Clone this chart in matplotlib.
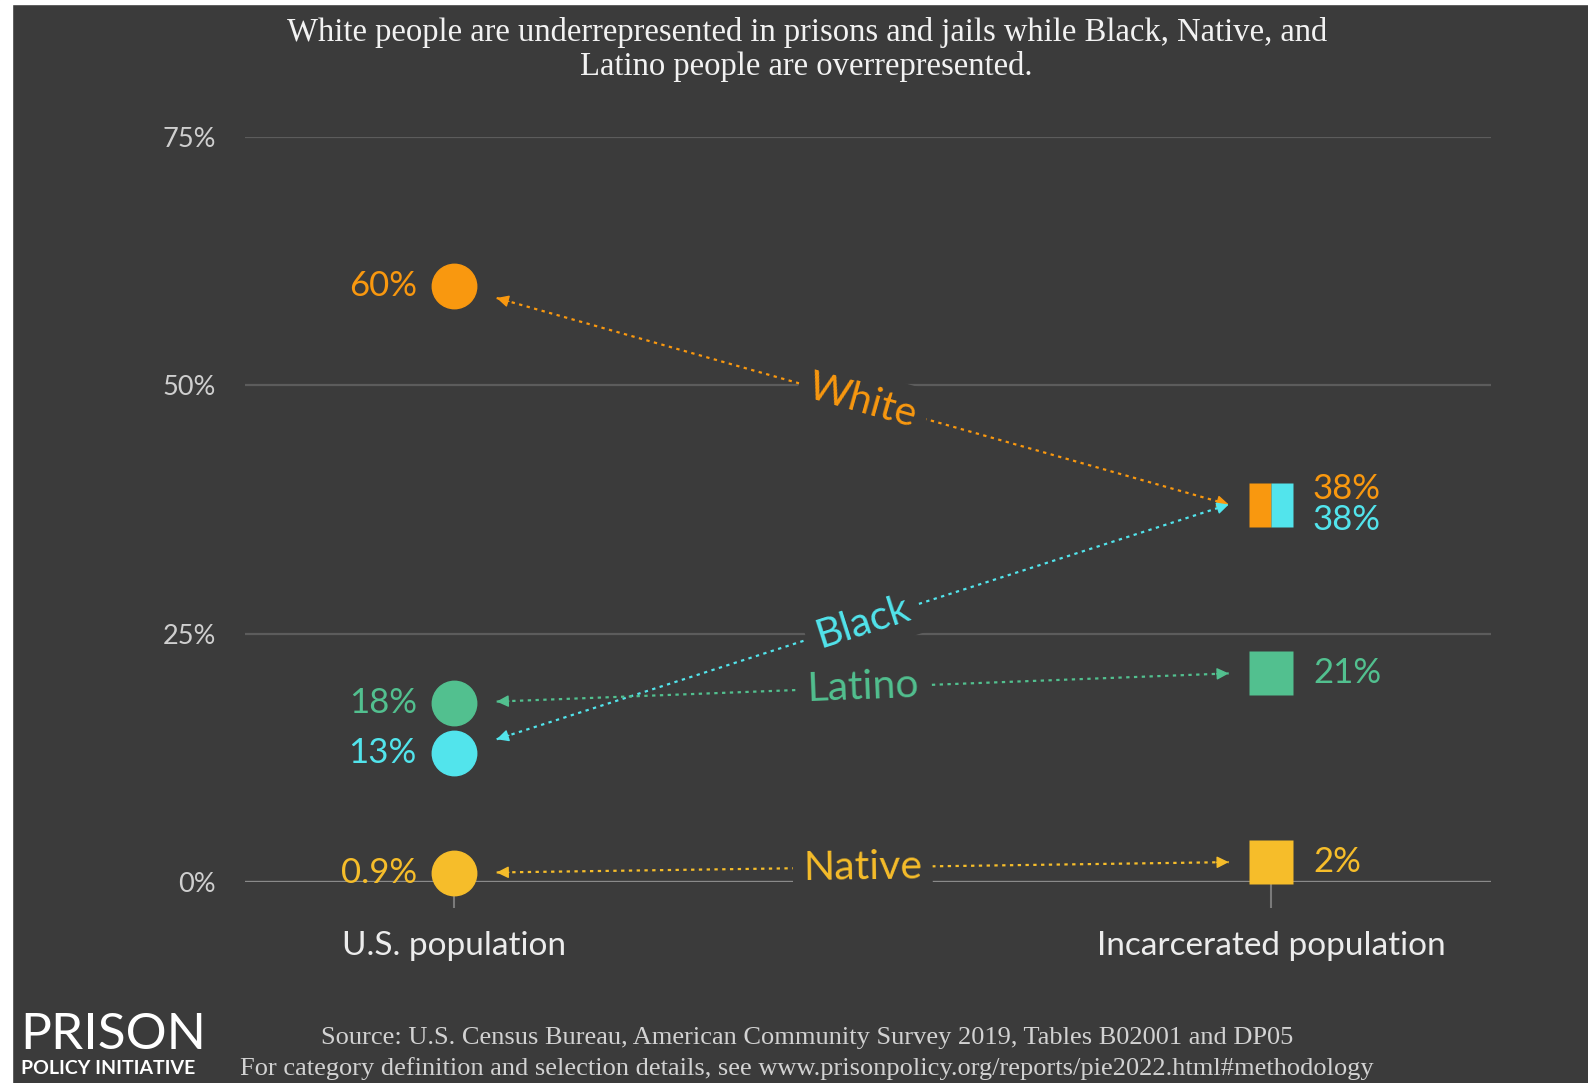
import numpy as np
import matplotlib.pyplot as plt
from matplotlib.patches import Rectangle

# data
groups = ['White', 'Black', 'Latino', 'Native']
us_pop = [60, 13, 18, 0.9]
incarcerated = [38, 38, 21, 2]
us_labels = ['60%', '13%', '18%', '0.9%']
inc_labels = ['38%', '38%', '21%', '2%']
colors = ['#f9980f', '#52e4ec', '#52c08f', '#f6bd2a']
columns = ['U.S. population', 'Incarcerated population']
yticks = [0, 25, 50, 75]
ytick_labels = ['0%', '25%', '50%', '75%']

title = ['White people are underrepresented in prisons and jails while Black, Native, and',
         'Latino people are overrepresented.']
source = ['Source: U.S. Census Bureau, American Community Survey 2019, Tables B02001 and DP05',
          'For category definition and selection details, see www.prisonpolicy.org/reports/pie2022.html#methodology']

bg = '#3b3b3b'
sans = ['Lato', 'DejaVu Sans']
serif = ['Liberation Serif', 'DejaVu Serif']

fig = plt.figure(figsize=(15.88, 10.83), dpi=100, facecolor=bg)
ax = fig.add_axes([245 / 1588, 201 / 1083, 1246 / 1588, 745 / 1083])
ax.set_facecolor(bg)
ax.set_xlim(-0.256, 1.269)
ax.set_ylim(0, 75)
for s in ax.spines.values():
    s.set_visible(False)

# grid lines
for t in yticks:
    if t == 0:
        ax.axhline(t, color='#8a8a8a', lw=2.4, zorder=1)
    else:
        ax.axhline(t, color='#5c5c5c', lw=1.6, zorder=1)

ax.set_yticks(yticks, ytick_labels)
ax.set_xticks([0, 1], columns)
ax.tick_params(axis='y', length=0, pad=21, labelsize=19.5, labelcolor='#cfcfcf')
ax.tick_params(axis='x', length=19, width=1.5, color='#7a7a7a', pad=16,
               labelsize=24, labelcolor='#ececec', direction='out')
for lab in ax.get_xticklabels() + ax.get_yticklabels():
    lab.set_family(sans)

fig.canvas.draw()
tip = 0.052
for i, g in enumerate(groups):
    c = colors[i]
    y0, y1 = us_pop[i], incarcerated[i]
    # markers
    ax.plot(0, y0, 'o', ms=32, color=c, mec=c, zorder=5, clip_on=False)
    fs = 'full'
    if g == 'White':
        fs = 'left'
    elif g == 'Black':
        fs = 'right'
    ax.plot(1, y1, 's', ms=31, color=c, mec='none', fillstyle=fs,
            markerfacecoloralt='none', zorder=5, clip_on=False)

    # dotted connector, aimed at the right-hand value
    xa, xb = tip, 1 - tip
    slope = (y1 - y0) / xb
    ya = y0 + slope * xa
    yb = y1
    ax.plot([xa, xb], [ya, yb], color=c, lw=1.6, ls=(0, (1.5, 2.0)), zorder=2)
    step = 0.015
    ax.annotate('', xy=(xa, ya), xytext=(xa + step, ya + slope * step),
                arrowprops=dict(arrowstyle='-|>,head_length=0.6,head_width=0.3',
                                color=c, lw=1, shrinkA=0, shrinkB=0, mutation_scale=12),
                zorder=3)
    ax.annotate('', xy=(xb, yb), xytext=(xb - step, yb - slope * step),
                arrowprops=dict(arrowstyle='-|>,head_length=0.6,head_width=0.3',
                                color=c, lw=1, shrinkA=0, shrinkB=0, mutation_scale=12),
                zorder=3)

    # group label in the middle of the connector
    p0 = ax.transData.transform((xa, ya))
    p1 = ax.transData.transform((xb, yb))
    ang = np.degrees(np.arctan2(p1[1] - p0[1], p1[0] - p0[0]))
    ax.text((xa + xb) / 2, (ya + yb) / 2, g, color=c, fontsize=29.5, family=sans,
            rotation=ang, rotation_mode='anchor', ha='center', va='center', zorder=4,
            bbox=dict(boxstyle='square,pad=0.25', fc=bg, ec='none'))

    # value labels
    ax.annotate(us_labels[i], (0, y0), xytext=(-27, 0), textcoords='offset points',
                ha='right', va='center', color=c, fontsize=25, family=sans)
    dy = 0
    if g == 'White':
        dy = 11
    elif g == 'Black':
        dy = -11
    ax.annotate(inc_labels[i], (1, y1), xytext=(30, dy), textcoords='offset points',
                ha='left', va='center', color=c, fontsize=25, family=sans)

# title and footer
fig.text(0.508, 0.970, title[0], ha='center', va='center', color='#f2f2f2',
         fontsize=23.5, family=serif)
fig.text(0.508, 0.939, title[1], ha='center', va='center', color='#f2f2f2',
         fontsize=23.5, family=serif)
fig.text(0.508, 0.0415, source[0], ha='center', va='center', color='#d2d2d2',
         fontsize=19, family=serif)
fig.text(0.508, 0.0138, source[1], ha='center', va='center', color='#d2d2d2',
         fontsize=19, family=serif)
fig.text(0.013, 0.031, 'PRISON', ha='left', va='baseline', color='white',
         fontsize=37, family=sans)
fig.text(0.013, 0.008, 'POLICY INITIATIVE', ha='left', va='baseline', color='white',
         fontsize=14, family=sans, fontweight='bold')

# screenshot border strips
fig.patches.append(Rectangle((0, 0), 12 / 1588, 1, transform=fig.transFigure,
                             color='white', zorder=10))
fig.patches.append(Rectangle((0, 1 - 4 / 1083), 1, 4 / 1083, transform=fig.transFigure,
                             color='white', zorder=10))

fig.savefig('out.png', dpi=100, facecolor=bg)
